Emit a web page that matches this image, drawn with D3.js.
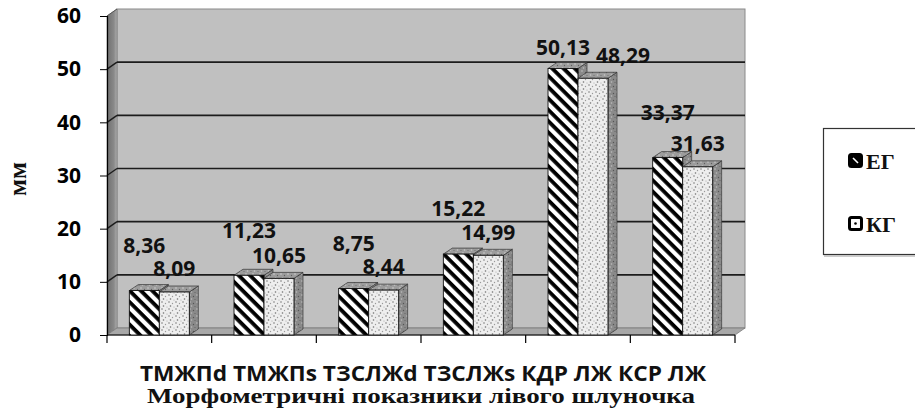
<!DOCTYPE html>
<html>
<head>
<meta charset="utf-8">
<script src="https://cdn.jsdelivr.net/npm/d3@7"></script>
<style>
  html, body { margin: 0; padding: 0; background: #fff; }
  svg { display: block; }
</style>
</head>
<body>
<svg id="chart" width="915" height="417"></svg>
<script>
const categories = ["ТМЖПd", "ТМЖПs", "ТЗСЛЖd", "ТЗСЛЖs", "КДР ЛЖ", "КСР ЛЖ"];
const seriesNames = ["ЕГ", "КГ"];
const egValues = [8.36, 11.23, 8.75, 15.22, 50.13, 33.37];
const kgValues = [8.09, 10.65, 8.44, 14.99, 48.29, 31.63];
const yTicks = [0, 10, 20, 30, 40, 50, 60];
const yLabel = "мм";
const xTitle = "Морфометричні показники лівого шлуночка";

const svg = d3.select("#chart"),
      sans = "'Open Sans', 'Liberation Sans', sans-serif",
      serif = "'Liberation Serif', 'DejaVu Serif', serif",
      left = 107, right = 735,
      dx = 10, dy = -7,      // depth of the back wall
      bdx = 9, bdy = -6;     // depth of a column

const locale = d3.formatLocale({ decimal: ",", thousands: " ", grouping: [3], currency: ["", ""] }),
      fmt = locale.format(".2f");

const y = d3.scaleLinear().domain([0, 60]).range([335, 16]);
const x0 = d3.scaleBand().domain(categories).range([left, right])
    .paddingInner(0.427).paddingOuter(0.2135);
const x1 = d3.scaleBand().domain(seriesNames).range([0, x0.bandwidth()]);

const series = seriesNames.map((name, i) => ({ name, values: i === 0 ? egValues : kgValues }));

// patterns
const defs = svg.append("defs");

const hatch = defs.append("pattern").attr("id", "hatch")
    .attr("patternUnits", "userSpaceOnUse").attr("width", 8).attr("height", 8)
    .attr("patternTransform", "rotate(45)");
hatch.append("rect").attr("width", 8).attr("height", 8).attr("fill", "#fff");
hatch.append("rect").attr("width", 8).attr("height", 3.8).attr("fill", "#000");

function speckle(id, bg, dots) {
  const p = defs.append("pattern").attr("id", id)
      .attr("patternUnits", "userSpaceOnUse").attr("width", 7).attr("height", 7);
  p.append("rect").attr("width", 7).attr("height", 7).attr("fill", bg);
  dots.forEach(d => p.append("circle").attr("cx", d[0]).attr("cy", d[1]).attr("r", d[2]).attr("fill", d[3]));
}
speckle("dots", "#eeeeee", [[1, 1, 0.8, "#7a7a7a"], [4.5, 2.5, 0.7, "#9a9a9a"], [2.5, 5, 0.8, "#6e6e6e"], [6, 6, 0.6, "#a8a8a8"]]);
speckle("sideFill", "#8a8a8a", [[1, 1, 0.8, "#c4c4c4"], [4.5, 2.5, 0.7, "#555"], [2.5, 5, 0.8, "#bdbdbd"], [6, 5.5, 0.6, "#606060"]]);
speckle("topFill", "#9c9c9c", [[1, 1, 0.8, "#d0d0d0"], [4.5, 2.5, 0.7, "#606060"], [2.5, 5, 0.8, "#cacaca"], [6, 5.5, 0.6, "#6a6a6a"]]);

const wallGrad = defs.append("linearGradient").attr("id", "sideWall")
    .attr("x1", "0%").attr("x2", "100%").attr("y1", "0%").attr("y2", "0%");
wallGrad.append("stop").attr("offset", "0%").attr("stop-color", "#6f6f6f");
wallGrad.append("stop").attr("offset", "70%").attr("stop-color", "#8a8a8a");
wallGrad.append("stop").attr("offset", "100%").attr("stop-color", "#b0b0b0");

// walls
const walls = svg.append("g");
walls.append("rect")
    .attr("x", left + dx).attr("y", y(60) + dy)
    .attr("width", right - left).attr("height", y(0) - y(60))
    .attr("fill", "#c0c0c0").attr("stroke", "#8a8a8a");
walls.append("polygon")
    .attr("points", [[left, y(0)], [left, y(60)], [left + dx, y(60) + dy], [left + dx, y(0) + dy]].join(" "))
    .attr("fill", "url(#sideWall)").attr("stroke", "#777").attr("stroke-width", 0.6);
walls.append("polygon")
    .attr("points", [[left, y(0)], [right, y(0)], [right + dx, y(0) + dy], [left + dx, y(0) + dy]].join(" "))
    .attr("fill", "#a8a8a8").attr("stroke", "#7a7a7a").attr("stroke-width", 0.8);

// gridlines on back and side wall
const grid = svg.append("g");
yTicks.filter(t => t > 0 && t < 60).forEach(t => {
  grid.append("line").attr("x1", left + dx).attr("x2", right + dx)
      .attr("y1", y(t) + dy).attr("y2", y(t) + dy)
      .attr("stroke", "#1c1c1c").attr("stroke-width", 1.6);
  grid.append("line").attr("x1", left).attr("x2", left + dx)
      .attr("y1", y(t)).attr("y2", y(t) + dy)
      .attr("stroke", "#1c1c1c").attr("stroke-width", 1.4);
});
grid.append("line").attr("x1", left).attr("x2", left + dx)
    .attr("y1", y(60)).attr("y2", y(60) + dy)
    .attr("stroke", "#555").attr("stroke-width", 1);

// y axis
const yAxis = svg.append("g").attr("transform", `translate(${left},0)`)
    .call(d3.axisLeft(y).tickValues(yTicks).tickSize(7).tickPadding(19).tickFormat(d3.format("d")));
yAxis.select(".domain").attr("stroke", "#000").attr("stroke-width", 1.2);
yAxis.selectAll(".tick line").attr("stroke", "#000");
yAxis.selectAll(".tick text")
    .attr("font-family", sans).attr("font-weight", "bold").attr("font-size", 21).attr("fill", "#000");

// x axis (category boundary ticks)
const xAxis = svg.append("g");
xAxis.append("line").attr("x1", left).attr("x2", right).attr("y1", y(0)).attr("y2", y(0))
    .attr("stroke", "#000").attr("stroke-width", 1.2);
const step = x0.step();
d3.range(categories.length + 1).forEach(i => {
  const xb = left + i * step;
  xAxis.append("line").attr("x1", xb).attr("x2", xb).attr("y1", y(0)).attr("y2", y(0) + 8)
      .attr("stroke", "#000").attr("stroke-width", 1.2);
});

// columns
const fronts = ["url(#hatch)", "url(#dots)"];
const barsG = svg.append("g");

function column(xl, w, v, front) {
  const xr = xl + w, yT = y(v), yB = y(0);
  const g = barsG.append("g");
  g.append("polygon")
      .attr("points", [[xr, yB], [xr + bdx, yB + bdy], [xr + bdx, yT + bdy], [xr, yT]].join(" "))
      .attr("fill", "url(#sideFill)").attr("stroke", "#333").attr("stroke-width", 0.7);
  g.append("polygon")
      .attr("points", [[xl, yT], [xl + bdx, yT + bdy], [xr + bdx, yT + bdy], [xr, yT]].join(" "))
      .attr("fill", "url(#topFill)").attr("stroke", "#333").attr("stroke-width", 0.7);
  g.append("rect").attr("x", xl).attr("y", yT).attr("width", w).attr("height", yB - yT)
      .attr("fill", front).attr("stroke", "#111").attr("stroke-width", 0.9);
}

categories.forEach((c, ci) => {
  series.forEach((s, si) => {
    column(x0(c) + x1(s.name), x1.bandwidth(), s.values[ci], fronts[si]);
  });
});

// data labels
const labelsG = svg.append("g")
    .attr("font-family", sans).attr("font-weight", "bold").attr("font-size", 21).attr("fill", "#111");

categories.forEach((c, ci) => {
  let prev = null;
  series.forEach((s, si) => {
    const v = s.values[ci];
    const cx = x0(c) + x1(s.name) + x1.bandwidth() / 2;
    // first series sits higher, except when close to the top of the plot
    const lift = si === 0 ? (v > 45 ? 21 : 45) : 23;
    const cy = y(v) - lift;
    const t = labelsG.append("text").attr("x", cx).attr("y", cy).attr("dy", "0.35em")
        .attr("text-anchor", "middle").text(fmt(v));
    const box = t.node().getBBox();
    if (prev && box.x < prev.x + prev.width + 3 && Math.abs(box.y - prev.y) < box.height * 0.8) {
      t.attr("x", prev.x + prev.width + 6 + box.width / 2);
    }
    prev = t.node().getBBox();
  });
});

// category names run together on one line under the axis
svg.append("text")
    .attr("x", 423).attr("y", 381)
    .attr("text-anchor", "middle")
    .attr("font-family", sans).attr("font-weight", "bold").attr("font-size", 21).attr("fill", "#111")
    .attr("textLength", 566).attr("lengthAdjust", "spacingAndGlyphs")
    .text(categories.join(" "));

svg.append("text")
    .attr("x", 421).attr("y", 403)
    .attr("text-anchor", "middle")
    .attr("font-family", serif).attr("font-weight", "bold").attr("font-size", 20).attr("fill", "#111")
    .attr("textLength", 548).attr("lengthAdjust", "spacingAndGlyphs")
    .text(xTitle);

svg.append("text")
    .attr("transform", "translate(17,179) rotate(-90)")
    .attr("text-anchor", "middle").attr("dy", "0.35em")
    .attr("font-family", serif).attr("font-weight", "bold").attr("font-size", 25).attr("fill", "#111")
    .text(yLabel);

// legend
const legend = svg.append("g");
legend.append("rect").attr("x", 823.5).attr("y", 128.5).attr("width", 95).attr("height", 126)
    .attr("fill", "#fff").attr("stroke", "#333").attr("stroke-width", 1.2);
legend.append("line").attr("x1", 824).attr("x2", 915).attr("y1", 256).attr("y2", 256)
    .attr("stroke", "#bbb").attr("stroke-width", 1.5);

const legendRows = [161, 224];
series.forEach((s, i) => {
  const ly = legendRows[i];
  legend.append("rect").attr("x", 849.5).attr("y", ly - 6.5).attr("width", 12).attr("height", 12)
      .attr("rx", 2).attr("fill", i === 0 ? "#000" : "#fff")
      .attr("stroke", "#000").attr("stroke-width", 3);
  if (i === 0) {
    legend.append("line").attr("x1", 853).attr("y1", ly - 3).attr("x2", 858).attr("y2", ly + 2)
        .attr("stroke", "#fff").attr("stroke-width", 1.6);
  } else {
    legend.append("circle").attr("cx", 855.5).attr("cy", ly - 0.5).attr("r", 1.3).attr("fill", "#000");
  }
  legend.append("text").attr("x", 866).attr("y", ly).attr("dy", "0.35em")
      .attr("font-family", serif).attr("font-weight", "bold").attr("font-size", 22).attr("fill", "#111")
      .text(s.name);
});
</script>
</body>
</html>
